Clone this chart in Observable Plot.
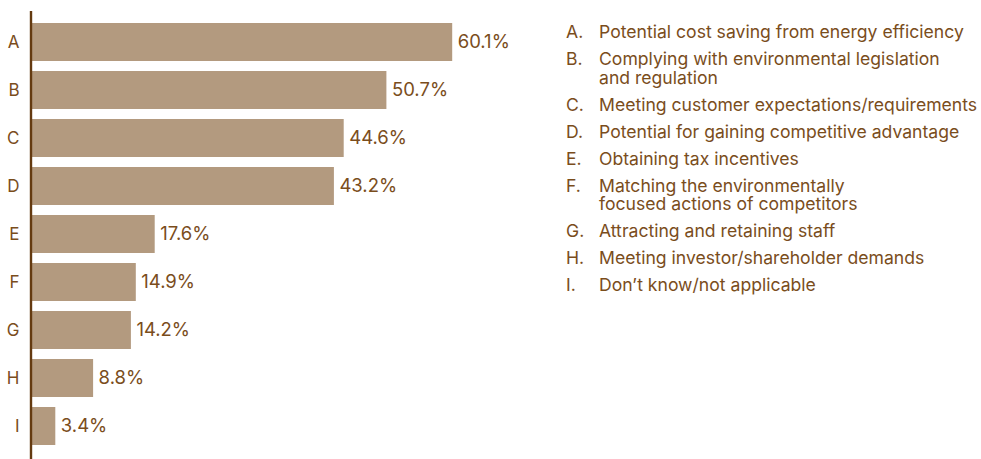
<!DOCTYPE html>
<html>
<head>
<meta charset="utf-8">
<script src="https://cdn.jsdelivr.net/npm/d3@7"></script>
<script src="https://cdn.jsdelivr.net/npm/@observablehq/plot@0.6"></script>
<style>
  html, body { margin: 0; padding: 0; background: #fff; }
  #wrap { position: relative; width: 981px; height: 459px; overflow: hidden; }
  #chart { position: absolute; left: 0; top: 0; }
  #legend { position: absolute; left: 566px; top: 23px; font-family: Inter, "Liberation Sans", Arial, sans-serif; font-size: 17.6px; color: #7a4d1c; }
  .item { display: flex; line-height: 18.5px; margin-bottom: 8.5px; white-space: nowrap; }
  .key { width: 33px; flex: none; }
</style>
</head>
<body>
<div id="wrap"><div id="chart"></div><div id="legend"></div></div>
<script>
const categories = ["A", "B", "C", "D", "E", "F", "G", "H", "I"];
const values = [60.1, 50.7, 44.6, 43.2, 17.6, 14.9, 14.2, 8.8, 3.4];
const descriptions = [
  "Potential cost saving from energy efficiency",
  "Complying with environmental legislation<br>and regulation",
  "Meeting customer expectations/requirements",
  "Potential for gaining competitive advantage",
  "Obtaining tax incentives",
  "Matching the environmentally<br>focused actions of competitors",
  "Attracting and retaining staff",
  "Meeting investor/shareholder demands",
  "Don\u2019t know/not applicable"
];

const data = categories.map((c, i) => ({cat: c, value: values[i]}));
const textColor = "#7a4d1c";
const font = "Inter, 'Liberation Sans', Arial, sans-serif";

const chart = Plot.plot({
  width: 550,
  height: 459,
  marginLeft: 31,
  marginRight: 28,
  marginTop: 11,
  marginBottom: 0,
  style: {fontFamily: font, background: "transparent"},
  x: {domain: [0, 70], range: [31.5, 521.5], axis: null},
  y: {domain: categories, range: [18.2, 450.2], paddingInner: 0.2, paddingOuter: 0.1, label: null},
  marks: [
    Plot.barX(data, {y: "cat", x: "value", fill: "#b39a7f"}),
    Plot.text(data, {y: "cat", x: "value", text: d => d.value.toFixed(1) + "%", textAnchor: "start", dx: 5, fontSize: 18.5, fill: textColor}),
    Plot.axisY({tickSize: 0, tickPadding: 12, fontSize: 17, color: textColor}),
    Plot.ruleX([0], {stroke: "#643a10", strokeWidth: 2.4, dx: -1})
  ]
});
document.getElementById("chart").appendChild(chart);

const legend = document.getElementById("legend");
categories.forEach((c, i) => {
  const row = document.createElement("div");
  row.className = "item";
  row.innerHTML = `<span class="key">${c}.</span><span>${descriptions[i]}</span>`;
  legend.appendChild(row);
});
</script>
</body>
</html>
